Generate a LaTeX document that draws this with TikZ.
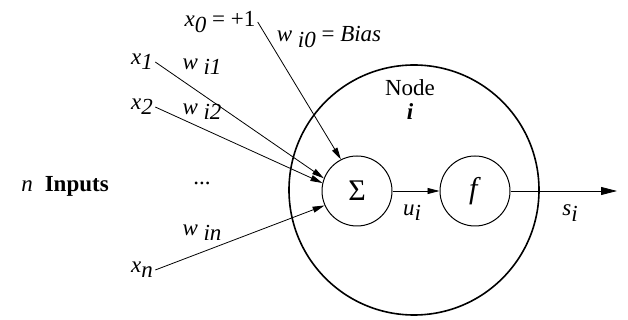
\documentclass[tikz,border=0pt]{standalone}
\usepackage{fontspec}
\setmainfont{Liberation Serif}
\usetikzlibrary{arrows.meta}
\newcommand{\lowsub}[1]{\raisebox{-0.5ex}{#1}}
\begin{document}
\begin{tikzpicture}
[x=0.5pt,y=-0.5pt,
every node/.style={inner sep=1pt,font=\fontsize{11.5}{13}\selectfont},
body/.style={circle,draw,line width=0.8pt,minimum size=125pt},
unit/.style={circle,draw,line width=0.5pt,minimum size=35pt,font=\fontsize{15}{17}\selectfont},
input/.style={line width=0.4pt,-{Triangle[length=6pt,width=3pt]}}]
\useasboundingbox (0,0) rectangle (628,320);
\node[body] (node) at (414,190) {};
\node[unit] (sum) at (357,191) {Σ};
\node[unit] (act) at (475,191) {\textit{f}};
\node (title) at (410,88) {Node};
\node (idx) at (410,112) {\textbf{\textit{i}}};
\node (x0) at (220,22) {\textit{x\lowsub{0}} = +1};
\node (x1) at (142,62) {\textit{x\lowsub{1}}};
\node (x2) at (142,107) {\textit{x\lowsub{2}}};
\node (xn) at (142,270) {\textit{x\lowsub{n}}};
\node (w0) at (329,37) {\textit{w \lowsub{i0}} = \textit{Bias}};
\node (w1) at (202,67) {\textit{w \lowsub{i1}}};
\node (w2) at (202,112) {\textit{w \lowsub{i2}}};
\node (dots) at (202,183) {...};
\node (wn) at (202,233) {\textit{w \lowsub{in}}};
\node (inputs) at (65,186) {\textit{n}\hspace{6pt}\textbf{Inputs}};
\node (u) at (412,213) {\textit{u\lowsub{i}}};
\node (s) at (570,213) {\textit{s\lowsub{i}}};
\coordinate (out) at (617,191);
\draw[input] (x0.east) -- (sum.117);
\draw[input] (x1.east) -- (sum.159);
\draw[input] (x2.east) -- (sum.167);
\draw[input] (xn.east) -- (sum.204);
\draw[input] (sum) -- (act);
\draw[line width=0.4pt,-{Triangle[length=8pt,width=4pt]}] (act) -- (out);
\end{tikzpicture}
\end{document}
